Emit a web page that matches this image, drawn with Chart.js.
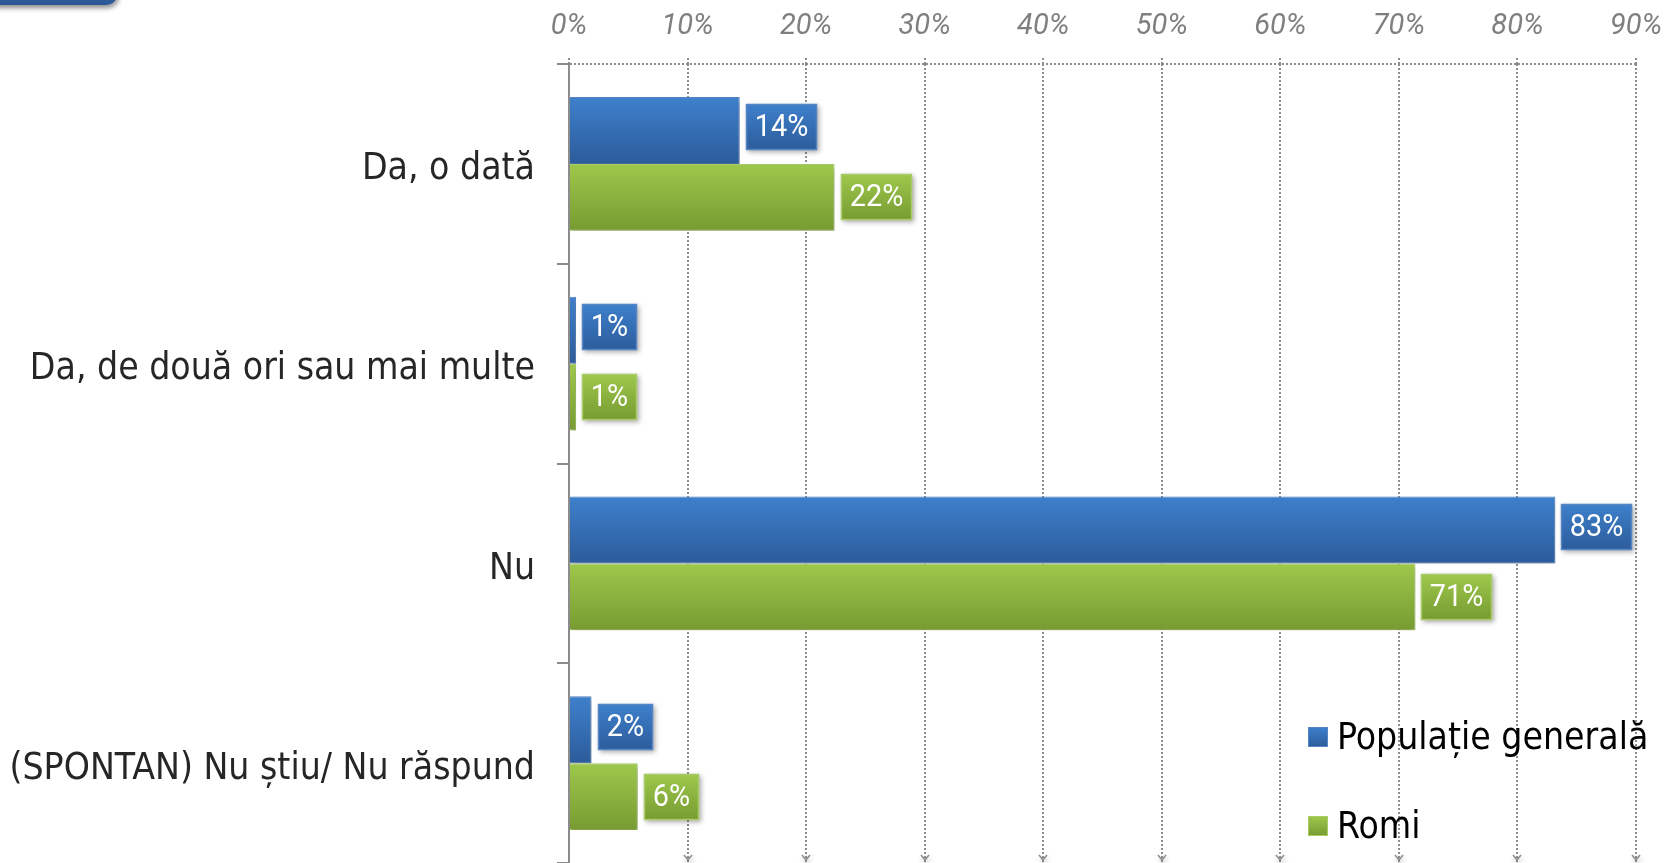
<!DOCTYPE html>
<html>
<head>
<meta charset="utf-8">
<title>Populație generală / Romi</title>
<script src="https://cdn.jsdelivr.net/npm/chart.js@4.4.1/dist/chart.umd.min.js"></script>
<style>
  html, body { margin: 0; padding: 0; background: #fff; }
  #wrap { position: relative; width: 1667px; height: 863px; overflow: hidden; }
  #tab {
    position: absolute; left: -30px; top: -40px; width: 148px; height: 45px;
    border-radius: 12px;
    background: linear-gradient(#4077bd, #2b5796);
    box-shadow: 1px 3px 5px rgba(0, 0, 0, 0.45);
  }
</style>
</head>
<body>
<div id="wrap">
  <canvas id="chart"></canvas>
  <div id="tab"></div>
</div>
<script>
// data
const categories = [
  'Da, o dată',
  'Da, de două ori sau mai multe',
  'Nu',
  '(SPONTAN) Nu știu/ Nu răspund'
];
const seriesNames = ['Populație generală', 'Romi'];
const populatieGenerala = [14.4, 0.6, 83.2, 1.9];
const romi = [22.4, 0.6, 71.4, 5.8];
const xTickLabels = ['0%', '10%', '20%', '30%', '40%', '50%', '60%', '70%', '80%', '90%'];

// look
const palette = [
  { top: '#3e80cc', bottom: '#2c5c9b', edge: '#5585c4' },
  { top: '#9ec84c', bottom: '#779b31', edge: '#a8cc66' }
];
const textFont = "'DejaVu Sans Condensed', 'DejaVu Sans', sans-serif";
const numFont = "Roboto, sans-serif";
const gridGray = '#8c8c8c';

function vGradient(ctx, y0, y1, c) {
  const g = ctx.createLinearGradient(0, y0, 0, y1);
  g.addColorStop(0, c.top);
  g.addColorStop(1, c.bottom);
  return g;
}

// gradient fill + soft shadow on bars
const barStyle = {
  id: 'barStyle',
  beforeDatasetsDraw(chart) {
    const ctx = chart.ctx;
    chart.data.datasets.forEach((ds, di) => {
      chart.getDatasetMeta(di).data.forEach(bar => {
        const h = bar.height;
        bar.options.backgroundColor = vGradient(ctx, bar.y - h / 2, bar.y + h / 2, palette[di]);
      });
    });
    ctx.save();
    ctx.shadowColor = 'rgba(0,0,0,0.28)';
    ctx.shadowBlur = 5;
    ctx.shadowOffsetX = 1;
    ctx.shadowOffsetY = 3;
  },
  afterDatasetsDraw(chart) {
    chart.ctx.restore();
  }
};

// boxed value labels at bar ends
const valueLabels = {
  id: 'valueLabels',
  afterDatasetsDraw(chart) {
    const ctx = chart.ctx;
    const squeeze = 0.9; // label text is a narrow face in the original
    ctx.save();
    ctx.font = '32px ' + numFont;
    ctx.textAlign = 'center';
    ctx.textBaseline = 'middle';
    chart.data.datasets.forEach((ds, di) => {
      chart.getDatasetMeta(di).data.forEach((bar, i) => {
        const text = Math.round(ds.data[i]) + '%';
        const w = Math.round(ctx.measureText(text).width * squeeze + 18);
        const h = 46;
        const x = Math.round(bar.x + 6);
        const y = Math.round(bar.y - h / 2 - (di === 0 ? 3 : 0));
        ctx.shadowColor = 'rgba(0,0,0,0.35)';
        ctx.shadowBlur = 5;
        ctx.shadowOffsetX = 2;
        ctx.shadowOffsetY = 2;
        ctx.fillStyle = vGradient(ctx, y, y + h, palette[di]);
        ctx.fillRect(x, y, w, h);
        ctx.shadowColor = 'transparent';
        ctx.strokeStyle = palette[di].edge;
        ctx.lineWidth = 1.5;
        ctx.strokeRect(x + 0.5, y + 0.5, w - 1, h - 1);
        ctx.fillStyle = '#ffffff';
        ctx.save();
        ctx.translate(x + w / 2, y + h / 2 + 1);
        ctx.scale(squeeze, 1);
        ctx.fillText(text, 0, 0);
        ctx.restore();
      });
    });
    ctx.restore();
  }
};

// little arrow heads at the foot of each vertical grid line
const gridArrows = {
  id: 'gridArrows',
  beforeDatasetsDraw(chart) {
    const { ctx, chartArea, scales } = chart;
    ctx.save();
    ctx.strokeStyle = gridGray;
    ctx.lineWidth = 1.5;
    scales.x.ticks.forEach((t, i) => {
      if (i === 0) return;
      const x = Math.round(scales.x.getPixelForValue(t.value));
      ctx.beginPath();
      ctx.moveTo(x - 4, chartArea.bottom - 8);
      ctx.lineTo(x, chartArea.bottom - 3);
      ctx.lineTo(x + 4, chartArea.bottom - 8);
      ctx.stroke();
    });
    ctx.restore();
  }
};

// legend sitting inside the plot, bottom right
const cornerLegend = {
  id: 'cornerLegend',
  afterDraw(chart) {
    const { ctx, chartArea } = chart;
    const left = chartArea.right - 328;
    const rows = [chartArea.bottom - 126, chartArea.bottom - 37];
    ctx.save();
    ctx.font = '37px ' + textFont;
    ctx.textBaseline = 'middle';
    ctx.textAlign = 'left';
    chart.data.datasets.forEach((ds, di) => {
      const cy = rows[di];
      ctx.fillStyle = vGradient(ctx, cy - 10, cy + 10, palette[di]);
      ctx.fillRect(left, cy - 10, 20, 20);
      ctx.strokeStyle = palette[di].edge;
      ctx.lineWidth = 1;
      ctx.strokeRect(left + 0.5, cy - 9.5, 19, 19);
      ctx.fillStyle = '#000000';
      ctx.fillText(ds.label, left + 29, cy + 2);
    });
    ctx.restore();
  }
};

const ctx = document.getElementById('chart').getContext('2d');

new Chart(ctx, {
  type: 'bar',
  data: {
    labels: categories,
    datasets: [
      {
        label: seriesNames[0],
        data: populatieGenerala,
        backgroundColor: () => palette[0].top,
        borderColor: palette[0].edge,
        borderWidth: 1
      },
      {
        label: seriesNames[1],
        data: romi,
        backgroundColor: () => palette[1].top,
        borderColor: palette[1].edge,
        borderWidth: 1
      }
    ]
  },
  options: {
    indexAxis: 'y',
    responsive: true,
    maintainAspectRatio: false,
    animation: false,
    categoryPercentage: 0.67,
    barPercentage: 1.0,
    layout: { padding: { left: 0, right: 31, top: 0, bottom: 0 } },
    plugins: {
      legend: { display: false },
      tooltip: { enabled: false }
    },
    scales: {
      x: {
        position: 'top',
        min: 0,
        max: 90,
        afterFit: s => {
          s.height = 64;
          s.paddingLeft = 0;
          s.paddingRight = 0;
        },
        ticks: {
          stepSize: 10,
          padding: 14,
          color: '#7f7f7f',
          font: { family: numFont, size: 29, style: 'italic' },
          callback: (v, i) => xTickLabels[i]
        },
        grid: {
          color: gridGray,
          lineWidth: 2,
          tickLength: 6,
          tickBorderDash: [2, 2]
        },
        border: { display: false, dash: [2, 2] }
      },
      y: {
        afterFit: s => {
          s.width = 569;
          s.paddingTop = 0;
          s.paddingBottom = 0;
        },
        ticks: {
          padding: 22,
          labelOffset: 6,
          color: '#262626',
          autoSkip: false,
          font: { family: textFont, size: 37 }
        },
        grid: {
          // only the top boundary is drawn across the plot, as a dotted line
          drawOnChartArea: true,
          color: c => (c.index === 0 ? gridGray : 'rgba(0,0,0,0)'),
          tickColor: gridGray,
          lineWidth: 2,
          tickLength: 12
        },
        border: { display: true, color: gridGray, width: 2, dash: [2, 2] }
      }
    }
  },
  plugins: [barStyle, valueLabels, gridArrows, cornerLegend]
});
</script>
</body>
</html>
